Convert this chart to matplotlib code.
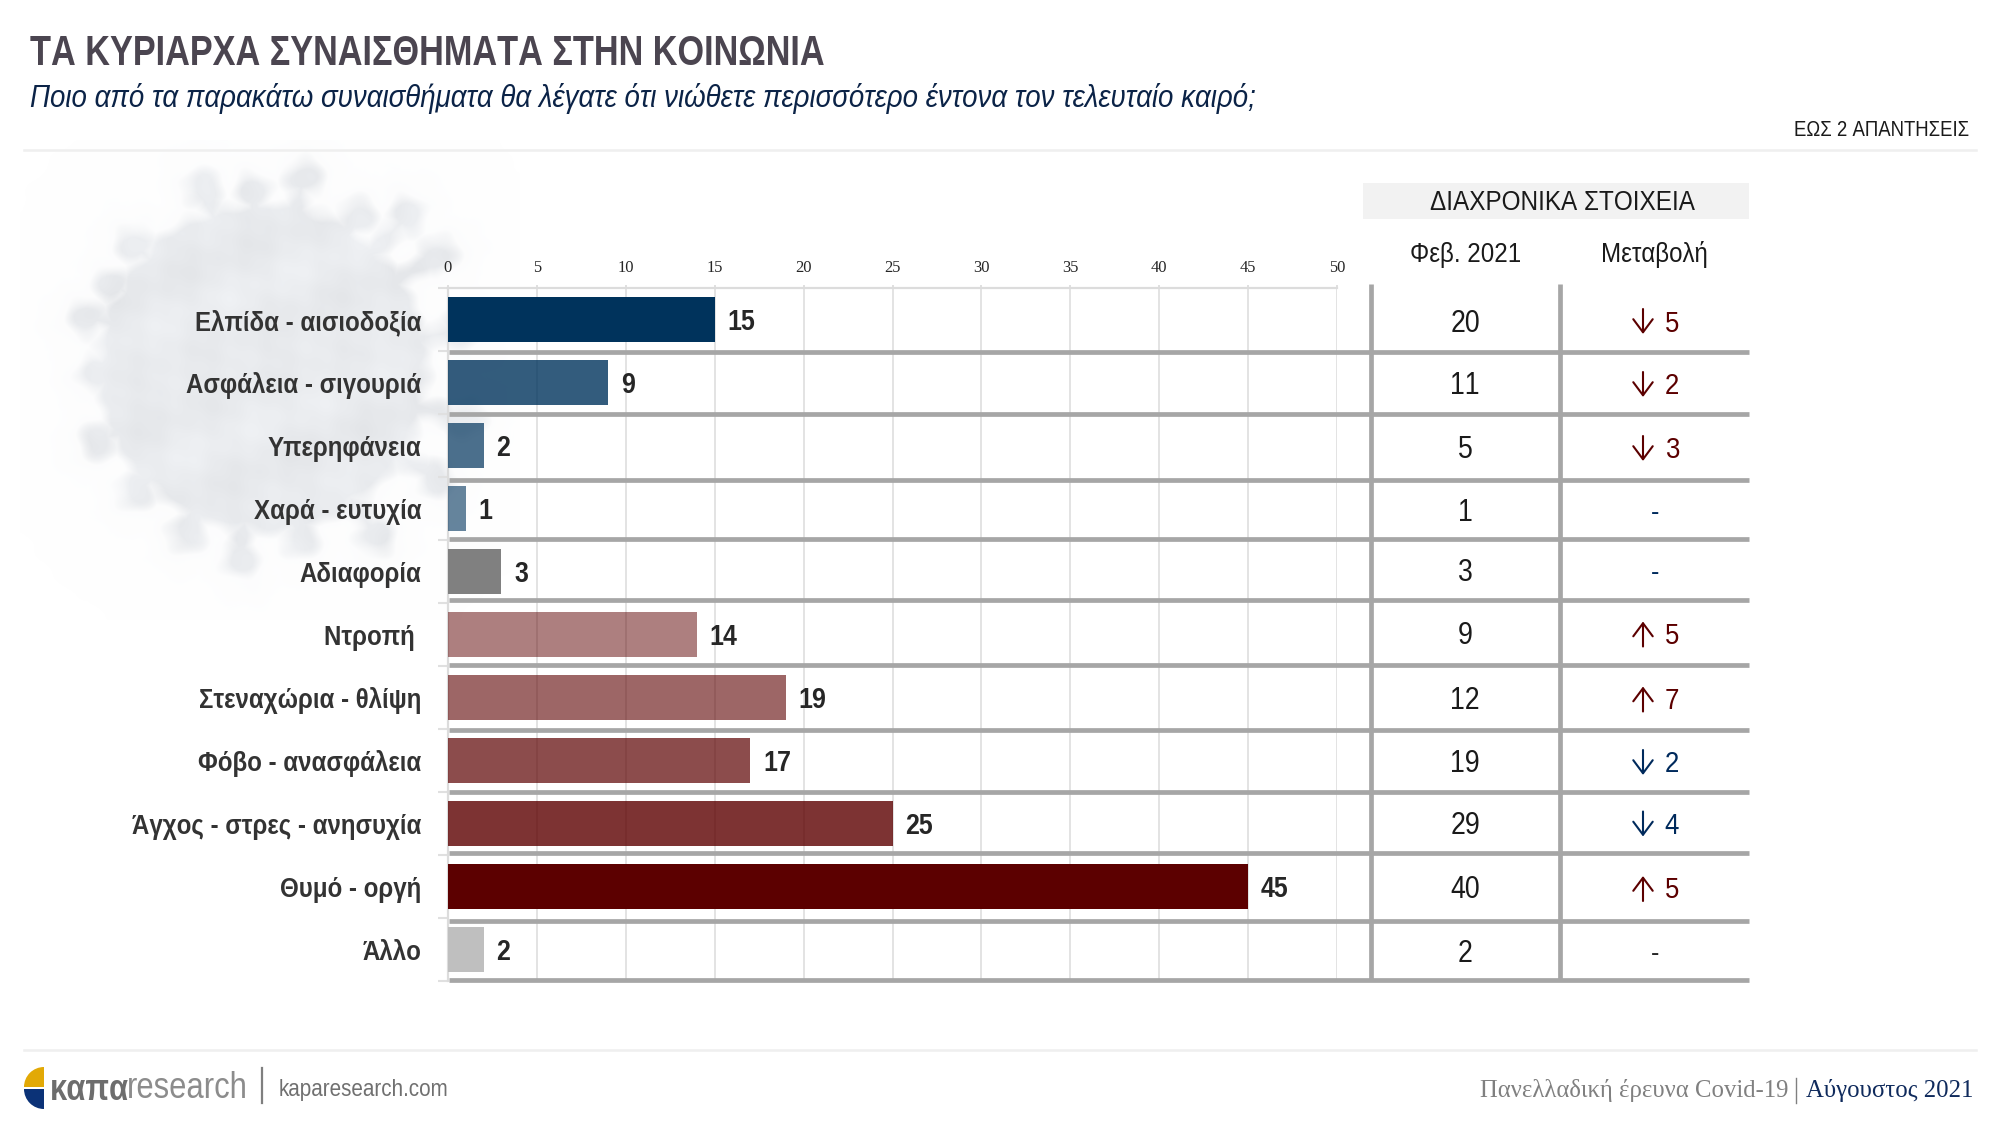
import os
import tempfile
import numpy as np
import matplotlib
matplotlib.use("Agg")
import matplotlib.pyplot as plt
from matplotlib import font_manager as fm
from matplotlib.patches import Rectangle, Wedge
from fontTools.ttLib import TTFont
from fontTools.ttLib.tables._g_l_y_f import GlyphCoordinates
from fontTools.ttLib.tables.ttProgram import Program

# chart values
CATEGORIES = ["Ελπίδα - αισιοδοξία", "Ασφάλεια - σιγουριά", "Υπερηφάνεια", "Χαρά - ευτυχία",
              "Αδιαφορία", "Ντροπή ", "Στεναχώρια - θλίψη", "Φόβο - ανασφάλεια",
              "Άγχος - στρες - ανησυχία", "Θυμό - οργή", "Άλλο"]
VALUES = [15, 9, 2, 1, 3, 14, 19, 17, 25, 45, 2]
FEB_2021 = [20, 11, 5, 1, 3, 9, 12, 19, 29, 40, 2]
CHANGES = [-5, -2, -3, 0, 0, 5, 7, -2, -4, 5, 0]
X_TICKS = [0, 5, 10, 15, 20, 25, 30, 35, 40, 45, 50]

# Colours
BLUE = "#00335c"
DARK_RED = "#5c0000"
BAR_COLORS = [BLUE, BLUE, BLUE, BLUE, "#808080", DARK_RED, DARK_RED, DARK_RED, DARK_RED, DARK_RED, "#bfbfbf"]
BAR_ALPHAS = [1, 0.8, 0.7, 0.6, 1, 0.5, 0.6, 0.7, 0.8, 1, 1]
NAVY = "#002a5c"
CHANGE_COLORS = [DARK_RED, DARK_RED, DARK_RED, NAVY, NAVY, DARK_RED, DARK_RED, NAVY, NAVY, DARK_RED, "#262626"]
SEP_COLOR = "#a6a6a6"
GRID_COLOR = "#e0e0e0"

# table row boundaries in pixels (they are not regular in the original)
ROW_LINES = [288, 352, 414, 480, 539, 600, 665, 730, 792, 853, 921, 980]

# virus decoration, spike tips in pixels
VIRUS_CENTER = (262, 367)
VIRUS_KNOBS = [(203, 188), (253, 192), (303, 178), (357, 217), (407, 215), (437, 255), (135, 245),
               (113, 285), (88, 317), (96, 373), (100, 440), (136, 490), (187, 532), (240, 558),
               (300, 538), (435, 478), (460, 330), (465, 420), (375, 535)]

W, H = 2000, 1125
PX = 0.72  # px to pt at dpi 100
FONT_DIR = tempfile.mkdtemp()


def make_narrow(weight, style, scale):
    # no narrow family is installed, so squeeze Liberation Sans into one
    src = fm.findfont(fm.FontProperties(family="Liberation Sans", weight=weight, style=style))
    font = TTFont(src)
    glyf = font["glyf"]
    hmtx = font["hmtx"]
    for name in font.getGlyphOrder():
        g = glyf[name]
        if g.isComposite():
            for c in g.components:
                c.x = round(c.x * scale)
        elif g.numberOfContours > 0:
            g.coordinates = GlyphCoordinates([(round(x * scale), y) for x, y in g.coordinates])
            g.program = Program()
            g.program.fromBytecode(b"")
        adv, lsb = hmtx.metrics[name]
        hmtx.metrics[name] = (round(adv * scale), round(lsb * scale))
    for tag in ["fpgm", "prep", "cvt ", "hdmx", "VDMX", "LTSH", "kern"]:
        if tag in font:
            del font[tag]
    path = os.path.join(FONT_DIR, f"narrow_{weight}_{style}_{int(scale * 1000)}.ttf")
    font.save(path)
    return path


REGULAR = make_narrow("normal", "normal", 0.86)
BOLD = make_narrow("bold", "normal", 0.86)
TITLE_BOLD = make_narrow("bold", "normal", 0.797)
ITALIC = make_narrow("normal", "italic", 0.864)
SERIF = ["Liberation Serif", "DejaVu Serif"]


def fp(path, px):
    return fm.FontProperties(fname=path, size=px * PX)


def virus_image(x0, y0, w, h):
    # pale blob with club shaped spikes, only a background decoration
    yy, xx = np.mgrid[y0:y0 + h, x0:x0 + w].astype(float)
    cx, cy = VIRUS_CENTER
    dist = np.hypot(xx - cx, yy - cy) - 172
    for kx, ky in VIRUS_KNOBS:
        knob = np.hypot(xx - kx, yy - ky) - 24
        # distance to the stalk
        vx, vy = kx - cx, ky - cy
        t = np.clip(((xx - cx) * vx + (yy - cy) * vy) / (vx * vx + vy * vy), 0, 1)
        stalk = np.hypot(xx - cx - t * vx, yy - cy - t * vy) - 16
        dist = np.minimum(dist, np.minimum(knob, stalk))
    dist += 4 * np.sin(xx / 9.0 + yy / 13.0) * np.cos(yy / 7.0 - xx / 17.0)
    alpha = np.clip(-dist / 14, 0, 1) * 0.88 + 0.12 * np.exp(-np.clip(dist, 0, None) / 28)
    tex = (np.sin(xx / 17.0 + yy / 29.0) * np.cos(yy / 19.0 - xx / 37.0)
           + 0.35 * np.sin(xx / 6.1 - yy / 8.3) * np.sin(yy / 7.7 + xx / 11.9)
           + 0.6 * np.sin((xx + 2 * yy) / 41.0))
    shade = 0.915 + 0.012 * tex
    img = np.zeros((h, w, 4))
    img[..., 0] = shade
    img[..., 1] = shade + 0.008
    img[..., 2] = shade + 0.02
    img[..., 3] = alpha
    return np.clip(img, 0, 1)


fig = plt.figure(figsize=(W / 100, H / 100), dpi=100, facecolor="white")

# pixel canvas for what lies under the bars
bg = fig.add_axes([0, 0, 1, 1], zorder=0)
bg.imshow(virus_image(20, 140, 500, 480), extent=(20, 520, 620, 140), aspect="auto", interpolation="bilinear")
bg.set_xlim(0, W)
bg.set_ylim(H, 0)
bg.axis("off")

# bar chart
ax_left, ax_right, ax_top, ax_bottom = 448, 1337, 288, 981
ax = fig.add_axes([ax_left / W, 1 - ax_bottom / H, (ax_right - ax_left) / W, (ax_bottom - ax_top) / H],
                  zorder=1)
ax.patch.set_alpha(0)
y_pos = np.arange(len(CATEGORIES))
bars = ax.barh(y_pos, VALUES, height=45 / 63, color=BAR_COLORS, zorder=3)
for bar, a in zip(bars, BAR_ALPHAS):
    bar.set_alpha(a)
ax.set_xlim(0, 50)
ax.set_ylim(len(CATEGORIES) - 0.5, -0.5)
ax.xaxis.tick_top()
ax.set_xticks(X_TICKS)
ax.set_xticklabels([str(v) for v in X_TICKS], family=SERIF, fontsize=16.5 * PX, color="#262626")
ax.tick_params(axis="x", length=2, width=1.4, color=GRID_COLOR, pad=7)
ax.set_yticks(np.append(y_pos - 0.5, len(CATEGORIES) - 0.5))
ax.set_yticklabels([])
ax.tick_params(axis="y", length=7, width=1.5, color=GRID_COLOR)
ax.grid(axis="x", color=GRID_COLOR, linewidth=1.3, zorder=0)
for side in ["right", "bottom"]:
    ax.spines[side].set_visible(False)
for side in ["top", "left"]:
    ax.spines[side].set_color("#dcdcdc")
    ax.spines[side].set_linewidth(1.6)

for i, (cat, val) in enumerate(zip(CATEGORIES, VALUES)):
    ax.text(val + 0.72, i + 0.04, str(val), ha="left", va="center", fontproperties=fp(BOLD, 29),
            color="#262626", zorder=5)
    ax.text(-1.5, i + 0.05, cat, ha="right", va="center", fontproperties=fp(BOLD, 28),
            color="#333333", zorder=5)

# overlay for the table, its rules and the header
top = fig.add_axes([0, 0, 1, 1], zorder=2)
top.set_xlim(0, W)
top.set_ylim(H, 0)
top.axis("off")
top.patch.set_alpha(0)

for yl in ROW_LINES[1:]:
    top.plot([449, 1749], [yl, yl], color=SEP_COLOR, linewidth=3.4, solid_capstyle="butt", zorder=4)
for xl in [1370.5, 1560]:
    top.plot([xl, xl], [284, 980], color=SEP_COLOR, linewidth=3.4, solid_capstyle="butt", zorder=4)

top.add_patch(Rectangle((1363, 183), 386, 36, facecolor="#f2f2f2", edgecolor="none"))
top.text(1563, 203, "ΔΙΑΧΡΟΝΙΚΑ ΣΤΟΙΧΕΙΑ", ha="center", va="center", fontproperties=fp(REGULAR, 28.2), color="#1a1a1a")
top.text(1466, 255, "Φεβ. 2021", ha="center", va="center", fontproperties=fp(REGULAR, 28), color="#1a1a1a")
top.text(1654, 255, "Μεταβολή", ha="center", va="center", fontproperties=fp(REGULAR, 28), color="#1a1a1a")

for i, (feb, chg, col) in enumerate(zip(FEB_2021, CHANGES, CHANGE_COLORS)):
    yc = (ROW_LINES[i] + ROW_LINES[i + 1]) / 2 + 1
    top.text(1465, yc + 2.5, str(feb), ha="center", va="center", fontproperties=fp(REGULAR, 31), color="#1a1a1a")
    if chg == 0:
        top.text(1655, yc + 2.5, "-", ha="center", va="center", fontproperties=fp(REGULAR, 29), color=col)
        continue
    y0, y1 = (yc - 12, yc + 13) if chg < 0 else (yc + 13, yc - 12)
    top.annotate("", xy=(1643, y1), xytext=(1643, y0),
                 arrowprops=dict(arrowstyle="->,head_length=0.94,head_width=0.7", color=col, lw=1.5,
                                 shrinkA=0, shrinkB=0))
    top.text(1672, yc + 2.5, str(abs(chg)), ha="center", va="center", fontproperties=fp(REGULAR, 30), color=col)

# titles
top.text(30, 54, "ΤΑ ΚΥΡΙΑΡΧΑ ΣΥΝΑΙΣΘΗΜΑΤΑ ΣΤΗΝ ΚΟΙΝΩΝΙΑ", ha="left", va="center",
         fontproperties=fp(TITLE_BOLD, 43), color="#4b4550")
top.text(30, 99, "Ποιο από τα παρακάτω συναισθήματα θα λέγατε ότι νιώθετε περισσότερο έντονα τον τελευταίο καιρό;",
         ha="left", va="center", fontproperties=fp(ITALIC, 32), color="#0b2347")
top.text(1969, 130, "ΕΩΣ 2 ΑΠΑΝΤΗΣΕΙΣ", ha="right", va="center", fontproperties=fp(REGULAR, 21.6), color="#1a1a1a")

# rules
top.plot([24, 1976], [150, 150], color="#efefef", linewidth=1.8)
top.plot([24, 1976], [1050, 1050], color="#efefef", linewidth=1.8)

# footer, left
top.add_patch(Wedge((44, 1087), 20, 180, 270, facecolor="#e2a906", edgecolor="none"))
top.add_patch(Wedge((44, 1089), 20, 90, 180, facecolor="#0b3277", edgecolor="none"))
top.text(50, 1090, "καπα", ha="left", va="center", fontproperties=fp(BOLD, 36), color="#6d6d6d")
top.text(127, 1088, "research", ha="left", va="center", fontproperties=fp(REGULAR, 36), color="#8c8c8c")
top.plot([262, 262], [1068, 1103], color="#7f7f7f", linewidth=1.6)
top.text(279, 1090, "kaparesearch.com", ha="left", va="center", fontproperties=fp(REGULAR, 24), color="#707070")

# footer, right
top.text(1788, 1090, "Πανελλαδική έρευνα Covid-19", ha="right", va="center", family=SERIF, fontsize=24.7 * PX, color="#808080")
top.plot([1796, 1796], [1078, 1103], color="#808080", linewidth=1)
top.text(1973, 1090, "Αύγουστος 2021", ha="right", va="center", family=SERIF, fontsize=24.8 * PX, color="#0f2a5c")

fig.savefig("out.png", dpi=100, facecolor="white")
